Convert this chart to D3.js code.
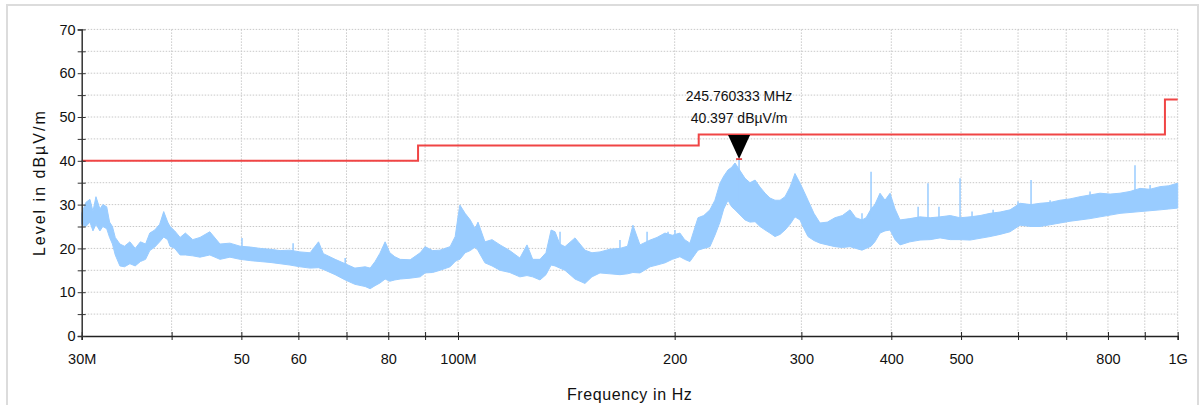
<!DOCTYPE html>
<html>
<head>
<meta charset="utf-8">
<script src="https://cdn.jsdelivr.net/npm/d3@7"></script>
<style>
  html, body { margin: 0; padding: 0; background: #fff; }
  svg { display: block; font-family: "Liberation Sans", Arial, sans-serif; }
</style>
</head>
<body>
<div id="wrapper"></div>
<script>
// frequencies in MHz, levels in dBµV/m
const traceFreq = [30.0, 30.4, 30.8, 31.1, 31.4, 31.8, 32.1, 32.5, 32.8, 33.1, 33.4, 33.9, 34.4, 35.0, 35.6, 36.2, 36.8, 37.3, 37.9, 38.5, 39.0, 39.5, 39.8, 40.4, 41.1, 41.8, 42.8, 43.8, 45.2, 46.7, 48.2, 49.8, 51.5, 53.1, 54.8, 56.6, 58.4, 60.3, 62.3, 64.0, 65.0, 67.5, 69.7, 71.9, 74.3, 75.5, 76.7, 77.9, 79.2, 80.4, 81.7, 83.1, 85.8, 88.6, 90.0, 92.2, 94.4, 97.5, 99.1, 100.0, 100.6, 102.3, 104.0, 105.6, 106.6, 109.0, 111.5, 114.4, 118.0, 121.9, 124.7, 127.0, 130.0, 132.5, 134.7, 136.4, 138.5, 140.8, 145.4, 150.1, 153.5, 157.5, 162.5, 167.9, 172.0, 175.0, 179.0, 184.9, 189.0, 193.9, 198.5, 203.4, 206.5, 210.0, 215.5, 219.5, 223.9, 227.5, 231.2, 234.0, 237.2, 240.0, 242.6, 250.5, 254.5, 258.7, 262.8, 267.1, 271.3, 275.7, 280.2, 284.7, 289.3, 293.9, 298.7, 302.5, 306.4, 312.3, 318.4, 326.0, 334.0, 342.0, 350.5, 357.0, 364.2, 369.0, 374.9, 379.5, 385.8, 392.0, 398.4, 404.8, 411.3, 424.5, 438.5, 453.0, 467.5, 483.0, 498.4, 514.6, 531.3, 548.6, 566.5, 584.9, 603.9, 625.5, 643.8, 665.0, 686.4, 708.5, 731.6, 755.5, 779.9, 805.5, 831.4, 858.5, 886.3, 915.0, 945.0, 972.0, 1000]
const traceHigh = [28.0, 30.5, 31.2, 28.5, 31.8, 29.0, 30.0, 29.5, 26.0, 25.0, 22.5, 21.0, 20.5, 21.5, 20.0, 21.5, 21.0, 23.5, 24.2, 25.5, 28.4, 26.0, 25.0, 24.0, 22.5, 23.5, 22.0, 22.5, 23.8, 21.0, 21.2, 20.5, 20.3, 20.0, 19.8, 19.5, 19.6, 19.2, 19.0, 21.5, 18.8, 17.5, 16.5, 15.5, 15.8, 15.5, 17.0, 18.9, 21.5, 19.0, 18.1, 17.5, 17.4, 19.0, 20.4, 19.5, 19.6, 20.4, 22.7, 27.2, 29.9, 28.0, 26.5, 24.5, 26.0, 21.5, 22.0, 20.8, 19.5, 17.8, 20.8, 17.5, 17.5, 19.0, 24.2, 23.8, 21.0, 20.4, 22.4, 19.6, 19.0, 19.2, 19.8, 20.0, 20.5, 25.3, 20.8, 21.9, 22.5, 23.5, 23.0, 23.5, 22.0, 21.2, 27.0, 27.5, 28.8, 31.0, 34.9, 36.5, 37.9, 38.5, 39.5, 36.0, 35.0, 35.6, 34.0, 32.6, 31.5, 31.0, 31.0, 31.8, 34.0, 37.1, 34.9, 33.0, 31.0, 28.0, 25.8, 26.0, 27.0, 27.5, 28.8, 27.0, 26.5, 27.0, 29.0, 30.0, 32.6, 31.0, 32.6, 29.0, 26.5, 26.8, 27.2, 27.0, 27.2, 27.5, 27.0, 27.2, 27.5, 28.0, 28.3, 28.8, 30.3, 30.0, 30.3, 30.5, 31.0, 31.3, 31.8, 32.2, 32.6, 32.4, 32.6, 33.0, 33.7, 33.5, 34.1, 34.3, 34.9]
const traceLow = [25.5, 25.0, 26.0, 24.0, 25.5, 24.0, 25.0, 24.5, 22.5, 21.0, 18.5, 16.0, 15.8, 16.5, 16.0, 17.0, 17.5, 19.5, 20.3, 21.5, 22.6, 22.0, 20.5, 20.0, 18.5, 18.5, 18.3, 18.0, 18.5, 17.5, 18.0, 17.5, 17.2, 17.0, 16.8, 16.5, 16.2, 15.8, 15.5, 15.6, 15.2, 14.0, 12.8, 11.8, 11.3, 10.8, 11.5, 12.1, 13.0, 12.5, 12.8, 13.0, 13.2, 13.5, 14.4, 14.5, 15.0, 15.8, 17.0, 17.4, 17.5, 19.0, 19.5, 20.3, 19.5, 16.7, 16.0, 15.0, 14.5, 13.5, 13.8, 13.5, 12.8, 14.0, 16.2, 16.0, 15.5, 15.0, 13.0, 12.0, 13.5, 14.4, 14.2, 14.0, 14.2, 14.5, 14.4, 15.8, 16.2, 16.7, 17.5, 18.1, 17.5, 17.0, 19.6, 20.0, 20.4, 23.0, 26.0, 29.0, 31.0, 29.5, 28.8, 26.5, 26.0, 26.1, 25.0, 24.2, 23.5, 22.7, 23.2, 24.2, 25.5, 27.2, 26.5, 24.5, 22.7, 21.8, 21.2, 20.8, 20.4, 20.2, 20.4, 20.0, 19.6, 20.0, 20.5, 21.5, 23.5, 24.0, 24.2, 22.0, 20.8, 21.5, 21.9, 22.0, 22.4, 22.0, 22.0, 21.9, 22.3, 22.7, 23.2, 23.8, 25.3, 25.0, 25.0, 25.4, 25.8, 26.2, 26.5, 26.8, 27.2, 27.6, 28.0, 28.2, 28.4, 28.6, 28.8, 29.0, 29.2]

// narrow peaks standing above the trace
const spikeFreq = [245.76, 374.9, 449.8, 498.4, 625.5, 872.3, 50.1, 59.0, 69.7, 138.6, 167.9, 183.1, 195.8, 200.2, 364.2, 378.0, 435.8, 465.9, 517.9, 554.0, 600.0, 664.8, 755.4, 915.4]
const spikeTop = [40.4, 37.5, 34.9, 36.0, 35.6, 39.0, 22.4, 21.2, 17.8, 23.8, 21.9, 23.8, 23.8, 24.2, 28.0, 29.5, 29.5, 29.5, 28.4, 28.8, 30.7, 31.0, 33.0, 34.5]
const spikeBase = [31.0, 27.0, 26.5, 27.0, 29.0, 32.0, 19.5, 18.5, 15.5, 19.0, 19.0, 20.5, 21.5, 22.0, 25.5, 26.5, 26.5, 26.5, 26.5, 27.0, 29.0, 29.5, 31.5, 33.0]

// FCC class B style limit line
const limitFreq = [30, 88, 88, 216, 216, 960, 960, 1000]
const limitLevel = [40, 40, 43.5, 43.5, 46, 46, 54, 54]

const markerFreq = 245.760333
const markerLevel = 40.397
const markerText = ["245.760333 MHz", "40.397 dBµV/m"]

const xTicks = [30, 40, 50, 60, 70, 80, 90, 100, 200, 300, 400, 500, 600, 700, 800, 900, 1000]
const xTickText = ["30M", "", "50", "60", "", "80", "", "100M", "200", "300", "400", "500", "", "", "800", "", "1G"]
const yTicks = [0, 5, 10, 15, 20, 25, 30, 35, 40, 45, 50, 55, 60, 65, 70]
const yTickText = ["0", "", "10", "", "20", "", "30", "", "40", "", "50", "", "60", "", "70"]

const width = 1202
const height = 405
const margin = { top: 29.4, right: 24.3, bottom: 69, left: 81.7 }
const boundedWidth = width - margin.left - margin.right
const boundedHeight = height - margin.top - margin.bottom

const svg = d3.select("#wrapper").append("svg")
  .attr("width", width)
  .attr("height", height)

// outer frame
svg.append("rect")
  .attr("x", 7).attr("y", 5)
  .attr("width", 1191).attr("height", 410)
  .attr("fill", "none")
  .attr("stroke", "#dcdcdc")
  .attr("stroke-width", 2)

const bounds = svg.append("g")
  .attr("transform", `translate(${margin.left},${margin.top})`)

const xScale = d3.scaleLog()
  .domain([30, 1000])
  .range([0, boundedWidth])

const yScale = d3.scaleLinear()
  .domain([0, 70])
  .range([boundedHeight, 0])

// grid
bounds.append("g")
  .selectAll("line")
  .data(yTicks.filter(d => d > 0))
  .join("line")
    .attr("x1", 0).attr("x2", boundedWidth)
    .attr("y1", d => yScale(d)).attr("y2", d => yScale(d))
    .attr("stroke", "#c8c8c8")
    .attr("stroke-dasharray", "1.5,1.5")

bounds.append("g")
  .selectAll("line")
  .data(xTicks.slice(1))
  .join("line")
    .attr("x1", d => xScale(d)).attr("x2", d => xScale(d))
    .attr("y1", 0).attr("y2", boundedHeight)
    .attr("stroke", "#c8c8c8")
    .attr("stroke-dasharray", "1.5,1.5")

// trace
const trace = traceFreq.map((f, i) => ({ f, hi: traceHigh[i], lo: traceLow[i] }))
const traceColor = "#99ccff"

bounds.append("path")
  .datum(trace)
  .attr("d", d3.area()
    .x(d => xScale(d.f))
    .y0(d => yScale(d.lo))
    .y1(d => yScale(d.hi)))
  .attr("fill", traceColor)
  .attr("stroke", traceColor)
  .attr("stroke-width", 1)

bounds.append("g")
  .selectAll("line")
  .data(spikeFreq)
  .join("line")
    .attr("x1", d => xScale(d)).attr("x2", d => xScale(d))
    .attr("y1", (d, i) => yScale(spikeBase[i]))
    .attr("y2", (d, i) => yScale(spikeTop[i]))
    .attr("stroke", traceColor)
    .attr("stroke-width", 1.5)

// limit line
const limit = limitFreq.map((f, i) => ({ f, v: limitLevel[i] }))
bounds.append("path")
  .datum(limit)
  .attr("d", d3.line().x(d => xScale(d.f)).y(d => yScale(d.v)))
  .attr("fill", "none")
  .attr("stroke", "#f04545")
  .attr("stroke-width", 2)

// marker
const mx = xScale(markerFreq)
const my = yScale(markerLevel)
bounds.append("path")
  .attr("d", `M${mx},${my} L${mx - 11},${my - 24} L${mx + 11},${my - 24} Z`)
  .attr("fill", "#000")
bounds.append("line")
  .attr("x1", mx - 3).attr("x2", mx + 3)
  .attr("y1", my).attr("y2", my)
  .attr("stroke", "#e02020")
  .attr("stroke-width", 1.5)

bounds.selectAll(".marker-label")
  .data(markerText)
  .join("text")
    .attr("class", "marker-label")
    .attr("x", mx)
    .attr("y", (d, i) => my - 58 + i * 22)
    .attr("text-anchor", "middle")
    .style("font-size", "14px")
    .attr("fill", "#111")
    .text(d => d)

// axes
const xAxis = bounds.append("g")
  .attr("transform", `translate(0,${boundedHeight})`)
  .call(d3.axisBottom(xScale)
    .tickValues(xTicks)
    .tickFormat((d, i) => xTickText[i])
    .tickSizeOuter(0)
    .tickSize(4)
    .tickPadding(14))
xAxis.select(".domain").attr("stroke", "#222").attr("stroke-width", 1.5)
xAxis.selectAll(".tick line").attr("y1", -4).attr("stroke", "#222")
xAxis.selectAll("text").style("font-size", "14.5px").attr("fill", "#111")

const yAxis = bounds.append("g")
  .call(d3.axisLeft(yScale)
    .tickValues(yTicks)
    .tickFormat((d, i) => yTickText[i])
    .tickSizeOuter(0)
    .tickSize(4)
    .tickPadding(2))
yAxis.select(".domain").attr("stroke", "#333").attr("stroke-width", 1.5)
yAxis.selectAll(".tick line").attr("x1", 4).attr("stroke", "#333")
yAxis.selectAll("text").style("font-size", "14.5px").attr("fill", "#111")

// axis titles
svg.append("text")
  .attr("x", margin.left + boundedWidth / 2)
  .attr("y", 400)
  .attr("text-anchor", "middle")
  .style("font-size", "16px")
  .style("letter-spacing", "0.6px")
  .attr("fill", "#111")
  .text("Frequency in Hz")

svg.append("text")
  .attr("transform", `translate(45,${margin.top + boundedHeight / 2}) rotate(-90)`)
  .attr("text-anchor", "middle")
  .style("font-size", "16px")
  .style("letter-spacing", "2px")
  .attr("fill", "#111")
  .text("Level in dBµV/m")
</script>
</body>
</html>
